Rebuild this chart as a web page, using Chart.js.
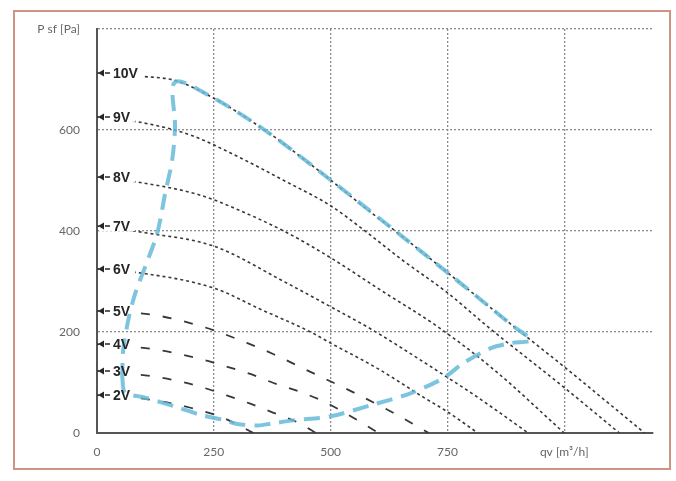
<!DOCTYPE html>
<html>
<head>
<meta charset="utf-8">
<script src="https://cdn.jsdelivr.net/npm/chart.js@4.4.1/dist/chart.umd.min.js"></script>
<style>
  html, body { margin: 0; padding: 0; background: #fff; }
  #wrap { position: relative; width: 676px; height: 481px; }
  #frame { position: absolute; left: 13px; top: 10px; width: 654px; height: 456px; border: 2px solid #cf9484; }
  #chart { position: absolute; left: 0; top: 0; }
</style>
</head>
<body>
<div id="wrap">
  <div id="frame"></div>
  <canvas id="chart" width="676" height="481"></canvas>
</div>
<script>
/* fan curves, qv [m3/h] against P sf [Pa], one pair of arrays per control voltage */

const qv2V = [0, 100, 200, 270, 335];
const ps2V = [75, 68, 50, 30, 0];
const qv3V = [0, 120, 178, 227, 279, 328, 378, 436, 468];
const ps3V = [123, 112, 102, 90, 74, 58, 40, 18, 0];
const qv4V = [0, 120, 228, 279, 328, 378, 436, 479, 515, 603];
const ps4V = [176, 166, 145, 131, 117, 99, 81, 65, 48, 0];
const qv5V = [0, 120, 228, 322, 378, 450, 550, 630, 710];
const ps5V = [242, 234, 210, 178, 156, 124, 80, 42, 0];
const qv6V = [0, 92, 250, 350, 457, 500, 600, 700, 750, 815];
const ps6V = [325, 317, 287, 245, 200, 178, 128, 70, 42, 0];
const qv7V = [0, 107, 250, 400, 500, 586, 700, 750, 800, 923];
const ps7V = [410, 396, 370, 300, 250, 206, 140, 110, 80, 0];
const qv8V = [0, 100, 221, 292, 408, 500, 607, 730, 850, 1000];
const ps8V = [507, 495, 471, 446, 396, 347, 283, 210, 125, 0];
const qv9V = [0, 100, 200, 300, 400, 500, 571, 650, 751, 837, 1000, 1118];
const ps9V = [626, 614, 590, 548, 500, 450, 402, 345, 277, 210, 90, 0];
const qv10V = [0, 100, 167, 250, 365, 436, 500, 579, 644, 751, 893, 1000, 1100, 1172];
const ps10V = [713, 706, 698, 663, 596, 547, 501, 442, 396, 317, 210, 131, 55, 0];

// working range (light blue outline), walked round as one closed line
const rangeQv = [54, 60, 99, 172, 221, 270, 300, 345, 375, 420, 500, 586, 672, 742, 785, 843, 886, 929,
                 893, 751, 644, 500, 365, 250, 167, 167, 161, 146, 129, 103, 82, 67, 56, 54];
const rangePs = [111, 80, 71, 51, 36, 26, 18, 15, 19, 25, 33, 55, 79, 109, 139, 168, 178, 184,
                 210, 317, 396, 501, 596, 663, 695, 606, 541, 475, 396, 329, 277, 224, 164, 111];

const voltNames = ['10V', '9V', '8V', '7V', '6V', '5V', '4V', '3V', '2V'];
const voltQv = [qv10V, qv9V, qv8V, qv7V, qv6V, qv5V, qv4V, qv3V, qv2V];
const voltPs = [ps10V, ps9V, ps8V, ps7V, ps6V, ps5V, ps4V, ps3V, ps2V];

const xTicks = [0, 250, 500, 750, 1000];
const yTicks = [0, 200, 400, 600, 800];
const xMax = 1190;
const yMax = 800;

function toPoints(q, p) {
    return q.map(function (v, i) { return { x: v, y: p[i] }; });
}

function fixedTicks(values) {
    return function (scale) {
        scale.ticks = values.map(function (v) { return { value: v }; });
    };
}

const LABEL_FONT = 'bold 14px "Liberation Sans", Arial, sans-serif';

const voltLabels = {
    id: 'voltLabels',
    // white patch over the start of the black curves, before the blue range is drawn
    afterDatasetDraw: function (chart, args) {
        if (args.index !== 1) return;
        const ctx = chart.ctx;
        const x0 = chart.scales.x.getPixelForValue(0);
        ctx.save();
        ctx.font = LABEL_FONT;
        ctx.fillStyle = '#fff';
        voltNames.forEach(function (name, i) {
            const y = chart.scales.y.getPixelForValue(voltPs[i][0]);
            const w = ctx.measureText(name).width;
            ctx.fillRect(x0 + 2, y - 5, 16 + w + 3, 10);
        });
        ctx.restore();
    },
    afterDatasetsDraw: function (chart) {
        const ctx = chart.ctx;
        const x0 = chart.scales.x.getPixelForValue(0);
        ctx.save();
        ctx.font = LABEL_FONT;
        ctx.fillStyle = '#262626';
        ctx.strokeStyle = '#262626';
        ctx.textBaseline = 'middle';
        ctx.textAlign = 'left';
        voltNames.forEach(function (name, i) {
            const y = Math.round(chart.scales.y.getPixelForValue(voltPs[i][0]));
            ctx.beginPath();
            ctx.moveTo(x0 + 1, y);
            ctx.lineTo(x0 + 7, y - 3.5);
            ctx.lineTo(x0 + 7, y + 3.5);
            ctx.closePath();
            ctx.fill();
            ctx.lineWidth = 1.5;
            ctx.beginPath();
            ctx.moveTo(x0 + 8, y);
            ctx.lineTo(x0 + 13, y);
            ctx.stroke();
            ctx.fillText(name, x0 + 16, y + 1);
        });
        ctx.restore();
    }
};

const datasets = [{
    data: toPoints(rangeQv, rangePs),
    borderColor: 'rgba(102,186,216,0.85)',
    borderWidth: 4,
    borderDash: [16, 9],
    tension: 0.3,
    pointRadius: 0,
    fill: false
}];

voltNames.forEach(function (name, i) {
    const longDash = i >= 5;   // 5V and below use the long dashes
    datasets.push({
        label: name,
        data: toPoints(voltQv[i], voltPs[i]),
        borderColor: '#383838',
        borderWidth: longDash ? 1.8 : 1.6,
        borderDash: longDash ? [9, 13] : [3, 3],
        cubicInterpolationMode: 'monotone',
        pointRadius: 0,
        fill: false
    });
});

const tickFont = { family: 'Lato', size: 12 };

function gridColor(c) {
    return c.tick && c.tick.value === 0 ? 'rgba(0,0,0,0)' : '#8c8c8c';
}

new Chart(document.getElementById('chart'), {
    type: 'line',
    data: { datasets: datasets },
    options: {
        responsive: false,
        animation: false,
        layout: { padding: { top: 29, right: 23, left: 0, bottom: 0 } },
        plugins: { legend: { display: false }, tooltip: { enabled: false } },
        scales: {
            x: {
                type: 'linear',
                min: 0,
                max: xMax,
                afterBuildTicks: fixedTicks(xTicks),
                afterFit: function (s) { s.height = 48; },
                grid: { color: gridColor, lineWidth: 1.3, drawTicks: false },
                border: { color: '#555', width: 2, dash: [2, 2] },
                ticks: {
                    padding: 12,
                    color: '#666',
                    font: tickFont,
                    callback: function (v) { return v === 1000 ? 'qv [m³/h]' : v; }
                }
            },
            y: {
                min: 0,
                max: yMax,
                afterBuildTicks: fixedTicks(yTicks),
                afterFit: function (s) { s.width = 97; },
                grid: { color: gridColor, lineWidth: 1.3, drawTicks: false },
                border: { color: '#555', width: 2, dash: [2, 2] },
                ticks: {
                    padding: 17,
                    color: '#666',
                    font: tickFont,
                    callback: function (v) { return v === 800 ? 'P sf [Pa]' : v; }
                }
            }
        }
    },
    plugins: [voltLabels]
});
</script>
</body>
</html>
